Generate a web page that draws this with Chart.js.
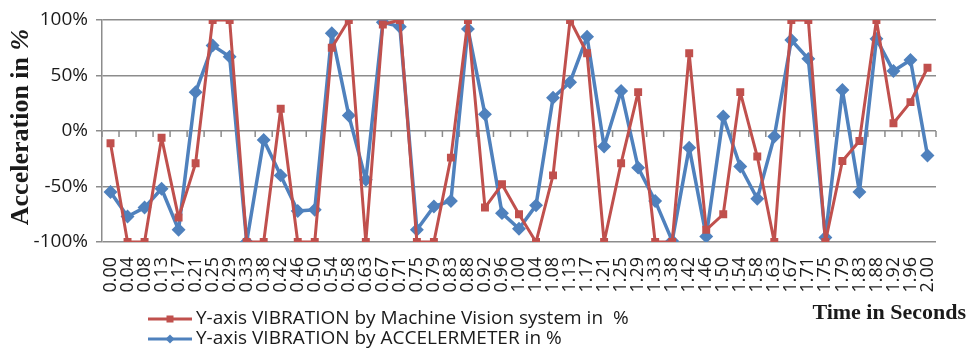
<!DOCTYPE html>
<html>
<head>
<meta charset="utf-8">
<script src="https://cdn.jsdelivr.net/npm/chart.js@4"></script>
<style>
  html, body { margin: 0; padding: 0; background: #ffffff; }
  #wrap { position: relative; width: 969px; height: 351px; }
</style>
</head>
<body>
<div id="wrap"><canvas id="chart" width="969" height="351"></canvas></div>
<script>
// Time axis (seconds)
const timeLabels = ['0.00','0.04','0.08','0.13','0.17','0.21','0.25','0.29','0.33','0.38','0.42','0.46','0.50','0.54','0.58','0.63','0.67','0.71','0.75','0.79','0.83','0.88','0.92','0.96','1.00','1.04','1.08','1.13','1.17','1.21','1.25','1.29','1.33','1.38','1.42','1.46','1.50','1.54','1.58','1.63','1.67','1.71','1.75','1.79','1.83','1.88','1.92','1.96','2.00'];

// Y-axis vibration measured by machine vision (%)
const visionValues = [-11,-100,-100,-6,-78,-29,100,100,-100,-100,20,-100,-100,75,100,-100,96,100,-100,-100,-24,100,-69,-48,-75,-100,-40,100,70,-100,-29,35,-100,-100,70,-89,-75,35,-23,-100,100,100,-100,-27,-9,100,7,26,57];

// Y-axis vibration measured by accelerometer (%)
const accelValues = [-55,-77,-69,-52,-89,35,77,67,-100,-8,-40,-72,-71,88,14,-44,98,94,-89,-68,-63,92,15,-74,-88,-67,30,44,85,-14,36,-33,-63,-99,-15,-95,13,-32,-61,-5,82,65,-96,37,-55,83,54,64,-22];

const yTicks = [-100, -50, 0, 50, 100];

const seriesNames = ['Y-axis VIBRATION by Machine Vision system in  %', 'Y-axis VIBRATION by ACCELERMETER in %'];

const RED = '#C0504D';
const BLUE = '#4F81BD';
const GRID = '#8c8c8c';
const TEXT = '#1a1a1a';
const SANS = '"Open Sans", sans-serif';
const SERIF = '"Liberation Serif", "Times New Roman", serif';

// Horizontal axis line at 0% with small ticks between categories
const zeroAxis = {
  id: 'zeroAxis',
  beforeDatasetsDraw(chart) {
    const { ctx, scales: { x, y } } = chart;
    const y0 = y.getPixelForValue(0);
    const n = chart.data.labels.length;
    ctx.save();
    ctx.strokeStyle = GRID;
    ctx.lineWidth = 1.5;
    ctx.beginPath();
    for (let i = 0; i <= n; i++) {
      let px;
      if (i === 0) px = x.left;
      else if (i === n) px = x.right;
      else px = (x.getPixelForValue(i - 1) + x.getPixelForValue(i)) / 2;
      ctx.moveTo(px, y0);
      ctx.lineTo(px, y0 + 6);
    }
    ctx.stroke();
    ctx.restore();
  }
};

// Axis titles and the stacked legend underneath
const extras = {
  id: 'extras',
  afterDraw(chart) {
    const { ctx, scales: { y } } = chart;
    ctx.save();

    // vertical title: "Acceleration in " bold, "%" bold italic
    const main = 'Acceleration in ';
    const pct = '%';
    const fMain = 'bold 26px ' + SERIF;
    const fPct = 'italic bold 26px ' + SERIF;
    ctx.font = fMain;
    const wMain = ctx.measureText(main).width;
    ctx.font = fPct;
    const wPct = ctx.measureText(pct).width;
    const total = wMain + wPct;
    const cy = (y.top + y.bottom) / 2 - 4;
    ctx.translate(21, cy);
    ctx.rotate(-Math.PI / 2);
    ctx.fillStyle = TEXT;
    ctx.textBaseline = 'middle';
    ctx.textAlign = 'left';
    ctx.font = fMain;
    ctx.fillText(main, -total / 2, 0);
    ctx.font = fPct;
    ctx.fillText(pct, -total / 2 + wMain, 0);
    ctx.setTransform(1, 0, 0, 1, 0, 0);

    ctx.fillStyle = TEXT;
    ctx.font = 'bold 22px ' + SERIF;
    ctx.textAlign = 'right';
    ctx.textBaseline = 'middle';
    ctx.fillText('Time in Seconds', 966, 313);

    const rows = [319, 339];
    chart.data.datasets.forEach((ds, i) => {
      const yy = rows[i];
      ctx.strokeStyle = ds.borderColor;
      ctx.lineWidth = 3;
      ctx.beginPath();
      ctx.moveTo(148, yy);
      ctx.lineTo(192, yy);
      ctx.stroke();
      ctx.fillStyle = ds.borderColor;
      if (ds.pointStyle === 'rect') {
        ctx.fillRect(166.5, yy - 3.5, 7, 7);
      } else {
        ctx.beginPath();
        ctx.moveTo(170, yy - 4.5);
        ctx.lineTo(174.5, yy);
        ctx.lineTo(170, yy + 4.5);
        ctx.lineTo(165.5, yy);
        ctx.closePath();
        ctx.fill();
      }
      ctx.fillStyle = TEXT;
      ctx.font = '19px ' + SANS;
      ctx.textAlign = 'left';
      ctx.textBaseline = 'middle';
      ctx.fillText(ds.label, 196, yy);
    });
    ctx.restore();
  }
};

new Chart(document.getElementById('chart'), {
  type: 'line',
  data: {
    labels: timeLabels,
    datasets: [
      {
        label: seriesNames[0],
        data: visionValues,
        borderColor: RED,
        backgroundColor: RED,
        borderWidth: 3,
        borderJoinStyle: 'round',
        pointStyle: 'rect',
        pointRadius: 3.5,
        pointHoverRadius: 3.5,
        tension: 0
      },
      {
        label: seriesNames[1],
        data: accelValues,
        borderColor: BLUE,
        backgroundColor: BLUE,
        borderWidth: 3.5,
        borderJoinStyle: 'round',
        pointStyle: 'rectRot',
        pointRadius: 4.5,
        pointHoverRadius: 4.5,
        tension: 0
      }
    ]
  },
  options: {
    responsive: false,
    animation: false,
    events: [],
    layout: { padding: { top: 20, right: 33, left: 0, bottom: 0 } },
    plugins: {
      legend: { display: false },
      tooltip: { enabled: false },
      title: { display: false }
    },
    scales: {
      x: {
        type: 'category',
        offset: true,
        grid: { display: false, drawTicks: false },
        border: { display: false },
        ticks: {
          minRotation: 90,
          maxRotation: 90,
          autoSkip: false,
          padding: 15,
          color: TEXT,
          font: { family: SANS, size: 18 }
        },
        afterFit(scale) { scale.height = 109; }
      },
      y: {
        min: -100,
        max: 100,
        afterBuildTicks(scale) { scale.ticks = yTicks.map(v => ({ value: v })); },
        grid: { color: GRID, lineWidth: 1.5, tickLength: 6, tickColor: GRID },
        border: { display: true, color: GRID, width: 1.5 },
        ticks: {
          padding: 8,
          color: TEXT,
          font: { family: SANS, size: 19 },
          callback: v => v + '%'
        },
        afterFit(scale) { scale.width = 102; }
      }
    }
  },
  plugins: [zeroAxis, extras]
});
</script>
</body>
</html>
